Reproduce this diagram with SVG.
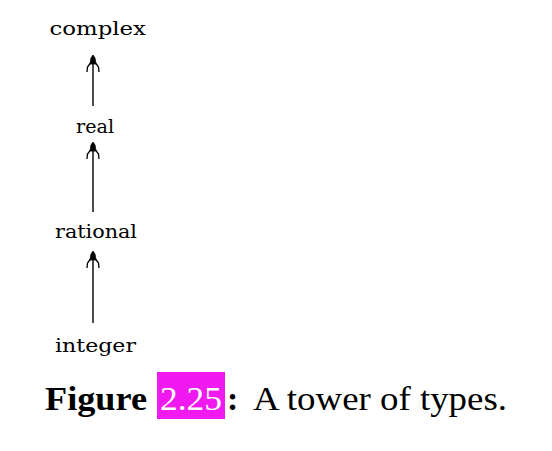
<svg xmlns="http://www.w3.org/2000/svg" width="552" height="451" viewBox="0 0 552 451">
<style>
.lbl{font-family:"DejaVu Serif","Liberation Serif",serif;font-size:19px;fill:#000}
.cap{font-family:"Liberation Serif","Times New Roman",serif;font-size:34px;fill:#000}
.b{font-weight:bold}
.shaft{stroke:#000;stroke-width:1.4;fill:none}
.leg{stroke:#000;stroke-width:1.3;fill:none}
.hd{fill:#000;stroke:#000;stroke-width:0.8}
</style>
<defs>
<g id="head">
<path class="hd" d="M0,0 L2,3 L3,9 L-3,9 L-2,3 Z"/>
<path class="leg" d="M-2.5,8 L-5.5,12 L-6,17 M2.5,8 L5.5,12 L6,17"/>
</g>
</defs>
<rect width="552" height="451" fill="#fff"/>
<g id="connectors">
<g id="e-real-complex"><line class="shaft" x1="93" y1="106" x2="93" y2="58"/><use href="#head" x="93" y="55"/></g>
<g id="e-rational-real"><line class="shaft" x1="93" y1="212" x2="93" y2="145"/><use href="#head" x="93" y="142"/></g>
<g id="e-integer-rational"><line class="shaft" x1="93" y1="323" x2="93" y2="254"/><use href="#head" x="93" y="251"/></g>
</g>
<g id="n-complex"><text class="lbl" x="49.5" y="35" textLength="96.5" lengthAdjust="spacingAndGlyphs">complex</text></g>
<g id="n-real"><text class="lbl" x="76" y="133" textLength="38" lengthAdjust="spacingAndGlyphs">real</text></g>
<g id="n-rational"><text class="lbl" x="55" y="238" textLength="82" lengthAdjust="spacingAndGlyphs">rational</text></g>
<g id="n-integer"><text class="lbl" x="55" y="352" textLength="81" lengthAdjust="spacingAndGlyphs">integer</text></g>
<g id="caption">
<text class="cap b" x="45" y="410" textLength="102" lengthAdjust="spacingAndGlyphs">Figure</text>
<rect x="157" y="372" width="68" height="47" fill="#f01af0"/>
<text class="cap" x="160" y="410" style="fill:#fff" textLength="62" lengthAdjust="spacingAndGlyphs">2.25</text>
<text class="cap b" x="227" y="410">:</text>
<text class="cap" x="253" y="410" textLength="254" lengthAdjust="spacingAndGlyphs">A tower of types.</text>
</g>
</svg>
